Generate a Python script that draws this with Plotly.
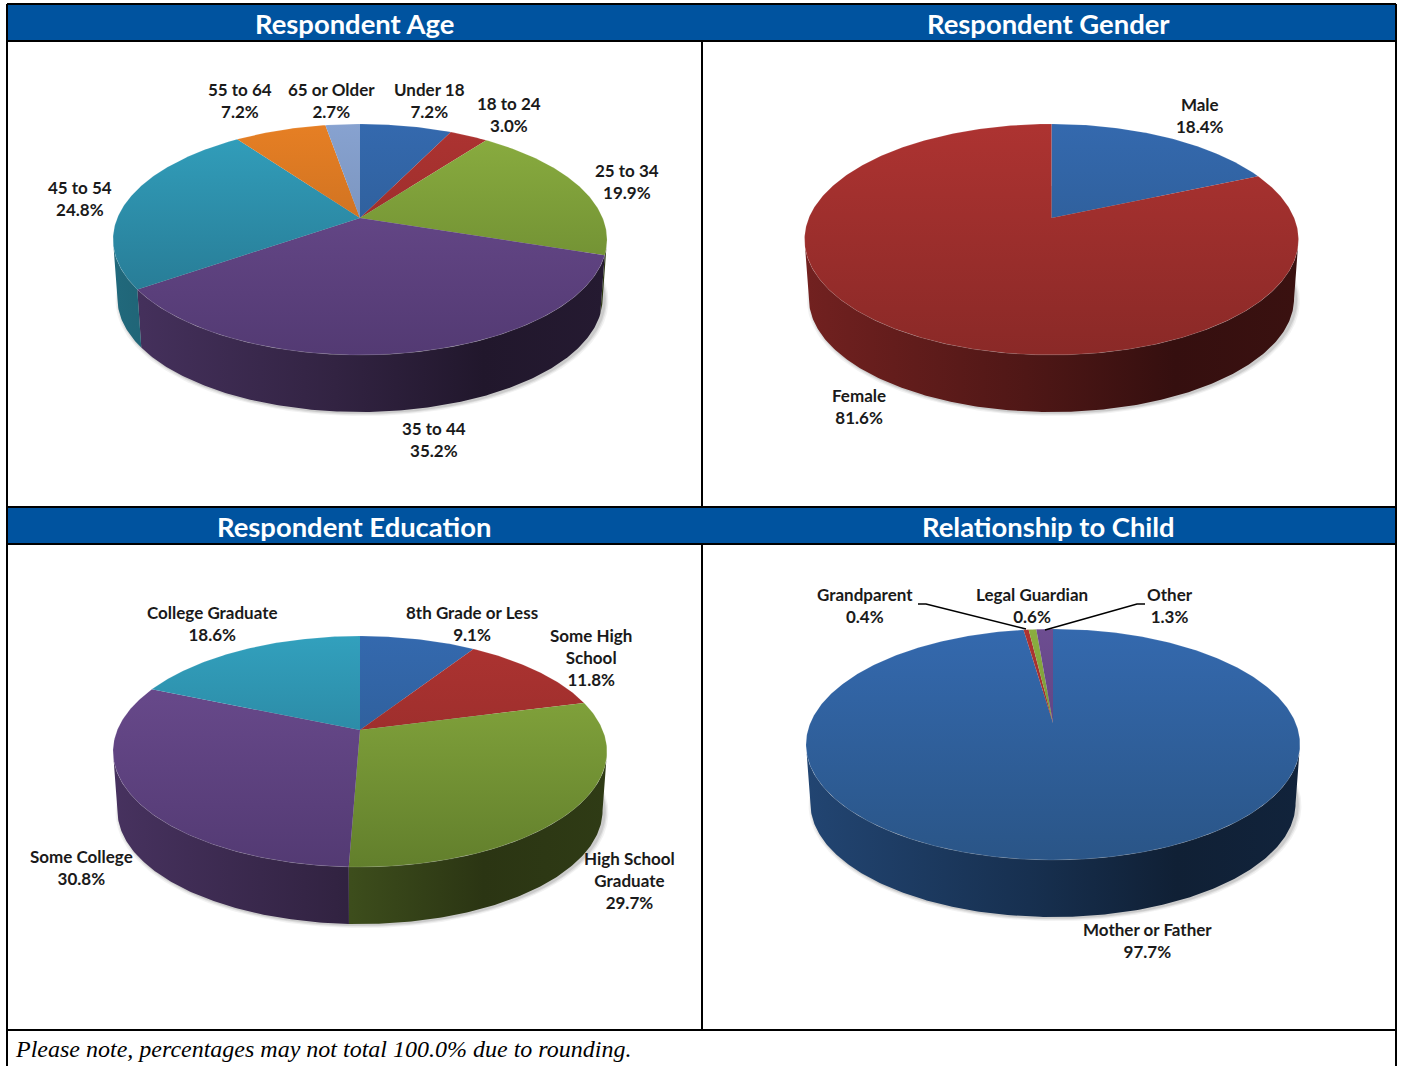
import numpy as np
import plotly.graph_objects as go

# ---------- data ----------
age_labels = ["Under 18", "18 to 24", "25 to 34", "35 to 44", "45 to 54", "55 to 64", "65 or Older"]
age_values = [7.2, 3.0, 19.9, 35.2, 24.8, 7.2, 2.7]
gender_labels = ["Male", "Female"]
gender_values = [18.4, 81.6]
education_labels = ["8th Grade or Less", "Some High<br>School", "High School<br>Graduate", "Some College", "College Graduate"]
education_values = [9.1, 11.8, 29.7, 30.8, 18.6]
relationship_labels = ["Mother or Father", "Grandparent", "Legal Guardian", "Other"]
relationship_values = [97.7, 0.4, 0.6, 1.3]
panel_titles = ["Respondent Age", "Respondent Gender", "Respondent Education", "Relationship to Child"]
footnote = "Please note, percentages may not total 100.0% due to rounding."

# ---------- layout / styling ----------
W, H = 1401, 1066
BLUE, RED, GREEN, PURPLE, TEAL, ORANGE, LILAC = range(7)
palette = [
    ("#3469ae", "#2a5587"), ("#ad3331", "#8a2927"), ("#8bae40", "#627f2c"),
    ("#6d4d91", "#533a73"), ("#32a0bd", "#246f88"), ("#e67f24", "#b4631e"),
    ("#87a2d0", "#6c84a8"),
]
panel_colors = [
    [BLUE, RED, GREEN, PURPLE, TEAL, ORANGE, LILAC],
    [BLUE, RED],
    [BLUE, RED, GREEN, PURPLE, TEAL],
    [BLUE, RED, GREEN, PURPLE],
]
RX, TOP_UP, TOP_DOWN, DEPTH = 247.0, 94.0, 137.0, 57.0
K = (TOP_DOWN - TOP_UP) / (TOP_DOWN + TOP_UP)
A = RX * np.sqrt(1 - K * K)
B = TOP_UP * (1 + K)
BOTTOM_SCALE = 0.982
panel_centers = [(360, 218), (1051.5, 218), (360, 730), (1053, 723)]
label_positions = [
    [(429, 100), (509, 114), (627, 181), (434, 439), (80, 198), (240, 100), (331, 100)],
    [(1200, 115), (859, 406)],
    [(472, 623), (591, 657), (629, 880), (81, 867), (212, 623)],
    [(1147, 940), (865, 605), (1032, 605), (1170, 605)],
]
title_positions = [(354, 23.5), (1048, 23.5), (354, 526.5), (1048, 526.5)]
leader_x = [[918, 926, 1026], [1145, 1137, 1045]]
leader_y = [[604, 604, 629], [604, 604, 630]]


def shade(hex_color, f):
    r, g, b = (int(hex_color[i:i + 2], 16) for i in (1, 3, 5))
    return f"rgb({int(r * f)},{int(g * f)},{int(b * f)})"


def top_xy(theta, cx, cy):
    u, v = np.sin(theta), -np.cos(theta)
    w = 1 - K * v
    return cx + A * u / w, cy + B * v / w


def bottom_xy(theta, cx, cy):
    x, y = top_xy(theta, cx, cy)
    return cx + (x - cx) * BOTTOM_SCALE, cy + (y - cy) * BOTTOM_SCALE + DEPTH + TOP_DOWN * (1 - BOTTOM_SCALE)


fig = go.Figure()


def add_pie(labels, values, colors, center):
    cx, cy = center
    total = sum(values)
    edges = np.concatenate([[0], np.cumsum(values)]) / total * 2 * np.pi
    circle = np.linspace(0, 2 * np.pi, 361)
    # soft shadow under the pie
    sx, sy = bottom_xy(circle, cx, cy)
    for grow, alpha in ((1.016, 0.05), (1.010, 0.07), (1.005, 0.09)):
        fig.add_trace(go.Scatter(x=cx + 2 + (sx - cx) * grow, y=cy + 1 + (sy - cy) * grow, fill="toself", mode="lines",
                                 line=dict(width=0), fillcolor=f"rgba(0,0,0,{alpha})", hoverinfo="skip"))
    # side wall: only the part turned towards the viewer
    wall_lo = np.pi - np.arccos(K)
    wall_hi = np.pi + np.arccos(K)
    for i, c in enumerate(colors):
        lo, hi = max(edges[i], wall_lo), min(edges[i + 1], wall_hi)
        if hi <= lo:
            continue
        t = np.linspace(lo, hi, max(3, int((hi - lo) * 90)))
        xt, yt = top_xy(t, cx, cy)
        xb, yb = bottom_xy(t, cx, cy)
        base = palette[c][0]
        fig.add_trace(go.Scatter(
            x=np.concatenate([xt, xb[::-1], xt[:1]]), y=np.concatenate([yt, yb[::-1], yt[:1]]),
            fill="toself", mode="lines", line=dict(width=0), hoverinfo="skip",
            fillgradient=dict(type="horizontal", start=cx - RX, stop=cx + RX,
                              colorscale=[[0, shade(base, 0.66)], [0.45, shade(base, 0.46)],
                                          [0.75, shade(base, 0.31)], [1, shade(base, 0.34)]]),
        ))
    # top face
    for i, c in enumerate(colors):
        t = np.linspace(edges[i], edges[i + 1], max(3, int((edges[i + 1] - edges[i]) * 90)))
        xt, yt = top_xy(t, cx, cy)
        hi_c, lo_c = palette[c]
        fig.add_trace(go.Scatter(
            x=np.concatenate([[cx], xt, [cx]]), y=np.concatenate([[cy], yt, [cy]]),
            fill="toself", mode="lines", line=dict(width=0),
            fillgradient=dict(type="vertical", start=cy - TOP_UP, stop=cy + TOP_DOWN,
                              colorscale=[[0, hi_c], [1, lo_c]]),
            text=f"{labels[i]}: {values[i]:.1f}%".replace("<br>", " "), hoveron="fills", hoverinfo="text",
        ))
        # pale rim highlight along the front edge of the top face
        fig.add_trace(go.Scatter(x=xt, y=yt, mode="lines", hoverinfo="skip",
                                 line=dict(width=1, color="rgba(255,255,255,0.12)")))


series = [(age_labels, age_values), (gender_labels, gender_values),
          (education_labels, education_values), (relationship_labels, relationship_values)]
for (labs, vals), cols, ctr in zip(series, panel_colors, panel_centers):
    add_pie(labs, vals, cols, ctr)

for lx, ly in zip(leader_x, leader_y):
    fig.add_trace(go.Scatter(x=lx, y=ly, mode="lines", line=dict(color="black", width=1.5), hoverinfo="skip"))

annotations = []
for (labs, vals), positions in zip(series, label_positions):
    for lab, val, (x, y) in zip(labs, vals, positions):
        annotations.append(dict(x=x, y=y, text=f"<b>{lab}<br>{val:.1f}%</b>", showarrow=False, xanchor="center",
                                yanchor="middle", align="center",
                                font=dict(family="Lato", size=17, color="#1a1a1a")))
for title, (x, y) in zip(panel_titles, title_positions):
    annotations.append(dict(x=x, y=y, text=f"<b>{title}</b>", showarrow=False, xanchor="center", yanchor="middle",
                            font=dict(family="Lato", size=27.4, color="white")))
annotations.append(dict(x=13, y=1049, text=f"<i>{footnote}</i>", showarrow=False, xanchor="left", yanchor="middle",
                        font=dict(family="Liberation Serif", size=24, color="black")))

shapes = []
for y0, y1 in ((5, 41), (508, 544)):
    shapes.append(dict(type="rect", x0=7, x1=1396, y0=y0, y1=y1, fillcolor="#00539f",
                       line=dict(width=0), layer="below"))
for x0, y0, x1, y1, w in [(7, 4, 1396, 4, 2), (7, 41, 1396, 41, 2), (7, 507, 1396, 507, 2), (7, 544, 1396, 544, 2),
                          (7, 1030, 1396, 1030, 2), (7, 4, 7, 1066, 2), (1396, 4, 1396, 1066, 2),
                          (702, 41, 702, 507, 2), (702, 544, 702, 1030, 2)]:
    shapes.append(dict(type="line", x0=x0, y0=y0, x1=x1, y1=y1, line=dict(color="black", width=w), layer="below"))

fig.update_layout(
    width=W, height=H, margin=dict(l=0, r=0, t=0, b=0), showlegend=False,
    paper_bgcolor="white", plot_bgcolor="white", shapes=shapes, annotations=annotations,
    xaxis=dict(range=[0, W], visible=False, fixedrange=True),
    yaxis=dict(range=[H, 0], visible=False, fixedrange=True),
)
fig.write_html("out.html", config=dict(displayModeBar=False),
               post_script="document.body.style.margin='0';document.body.style.overflow='hidden';")
